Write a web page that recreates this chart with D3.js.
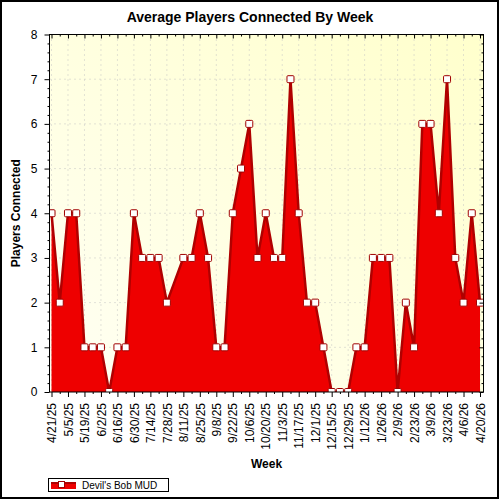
<!DOCTYPE html>
<html><head><meta charset="utf-8">
<script src="https://cdn.jsdelivr.net/npm/d3@7"></script>
<style>body{margin:0;background:#fff}svg{display:block;font-family:"Liberation Sans",Arial,sans-serif}</style>
</head><body><svg id="c" width="500" height="500"></svg>
<script>
const weeks = ["4/21/25","4/28/25","5/5/25","5/12/25","5/19/25","5/26/25","6/2/25","6/9/25","6/16/25","6/23/25","6/30/25","7/7/25","7/14/25","7/21/25","7/28/25","8/4/25","8/11/25","8/18/25","8/25/25","9/1/25","9/8/25","9/15/25","9/22/25","9/29/25","10/6/25","10/13/25","10/20/25","10/27/25","11/3/25","11/10/25","11/17/25","11/24/25","12/1/25","12/8/25","12/15/25","12/22/25","12/29/25","1/5/26","1/12/26","1/19/26","1/26/26","2/2/26","2/9/26","2/16/26","2/23/26","3/2/26","3/9/26","3/16/26","3/23/26","3/30/26","4/6/26","4/13/26","4/20/26"];
const players = [4,2,4,4,1,1,1,0,1,1,4,3,3,3,2,null,3,3,4,3,1,1,4,5,6,3,4,3,3,7,4,2,2,1,0,0,0,1,1,3,3,3,0,2,1,6,6,4,7,3,2,4,2];
const xTickLabels = weeks.filter((w,i)=>i%2===0);
const yTickValues = [0,1,2,3,4,5,6,7,8];
const chartTitle = "Average Players Connected By Week";
const xTitle = "Week";
const yTitle = "Players Connected";
const seriesName = "Devil's Bob MUD";

const svg = d3.select("#c");
const L=49.5, R=483.5, T=34.5, B=392;
const x = d3.scalePoint().domain(weeks).range([51.5,480]);
const y = d3.scaleLinear().domain([0,8]).range([B,T]);
const data = weeks.map((w,i)=>({w, v:players[i]})).filter(d=>d.v!==null);

const defs = svg.append("defs");
const g = defs.append("linearGradient").attr("id","bg").attr("x1","0").attr("y1","1").attr("x2","1").attr("y2","0");
g.append("stop").attr("offset","0").attr("stop-color","#fffff4");
g.append("stop").attr("offset","1").attr("stop-color","#ffffcc");
defs.append("clipPath").attr("id","clip").append("rect").attr("x",L).attr("y",T).attr("width",R-L).attr("height",B-T);

svg.append("rect").attr("x",1).attr("y",1).attr("width",497).attr("height",497).attr("fill","#fff").attr("stroke","#000").attr("stroke-width",2);
svg.append("rect").attr("x",L).attr("y",T).attr("width",R-L).attr("height",B-T).attr("fill","url(#bg)");

// grid
svg.append("g").selectAll("line").data(xTickLabels).join("line")
  .attr("x1",d=>x(d)).attr("x2",d=>x(d)).attr("y1",T).attr("y2",B)
  .attr("stroke","#c4c4c4").attr("stroke-dasharray","1,4");
svg.append("g").selectAll("line").data(yTickValues.slice(1,-1)).join("line")
  .attr("x1",L).attr("x2",R).attr("y1",d=>y(d)).attr("y2",d=>y(d))
  .attr("stroke","#c4c4c4").attr("stroke-dasharray","1,4");

const plot = svg.append("g").attr("clip-path","url(#clip)");
plot.append("path").datum(data).attr("fill","#ee0000")
  .attr("d", d3.area().x(d=>x(d.w)).y0(B).y1(d=>y(d.v)));
plot.append("path").datum(data).attr("fill","none").attr("stroke","#b00000").attr("stroke-width",2.5).attr("stroke-linejoin","round")
  .attr("d", d3.line().x(d=>x(d.w)).y(d=>y(d.v)));
plot.append("g").selectAll("rect").data(data).join("rect")
  .attr("x",d=>x(d.w)-3.5).attr("y",d=>y(d.v)-3.5).attr("width",7).attr("height",7).attr("rx",1)
  .attr("fill","#fff").attr("stroke","#a00000").attr("stroke-width",1);

// axes
const minorY = d3.range(0,40).map(i=>i*0.2).filter(v=>Math.abs(v-Math.round(v))>1e-6);
function styleAxis(sel){ sel.select(".domain").remove(); sel.selectAll("line").attr("stroke","#000"); }
svg.append("g").attr("transform",`translate(${L},0)`).call(d3.axisLeft(y).tickValues(minorY).tickSize(2).tickFormat("")).call(styleAxis);
const yAx = svg.append("g").attr("transform",`translate(${L},0)`).call(d3.axisLeft(y).tickValues(yTickValues).tickSize(5).tickPadding(7).tickFormat(d3.format("d"))).call(styleAxis);
yAx.selectAll("text").attr("font-size",12).attr("fill","#000").attr("font-family","Liberation Sans, Arial, sans-serif");
svg.append("g").attr("transform",`translate(${R},0)`).call(d3.axisLeft(y).tickValues(minorY).tickSize(2).tickFormat("")).call(styleAxis);
svg.append("g").attr("transform",`translate(${R},0)`).call(d3.axisLeft(y).tickValues(yTickValues).tickSize(4).tickFormat("")).call(styleAxis);

const oddWeeks = weeks.filter((w,i)=>i%2===1);
svg.append("g").attr("transform",`translate(0,${B})`).call(d3.axisBottom(x).tickValues(oddWeeks).tickSize(2).tickFormat("")).call(styleAxis);
const xAx = svg.append("g").attr("transform",`translate(0,${B})`).call(d3.axisBottom(x).tickValues(xTickLabels).tickSize(5)).call(styleAxis);
xAx.selectAll("text").attr("font-size",12).attr("fill","#000").attr("font-family","Liberation Sans, Arial, sans-serif")
  .attr("transform","rotate(-90)").attr("text-anchor","end").attr("x",-11).attr("y",0).attr("dy","0.35em");
svg.append("g").attr("transform",`translate(0,${T})`).call(d3.axisTop(x).tickValues(oddWeeks).tickSize(-2).tickFormat("")).call(styleAxis);
svg.append("g").attr("transform",`translate(0,${T})`).call(d3.axisTop(x).tickValues(xTickLabels).tickSize(-4).tickFormat("")).call(styleAxis);

svg.append("rect").attr("x",L).attr("y",T).attr("width",R-L).attr("height",B-T).attr("fill","none").attr("stroke","#000").attr("stroke-width",1);

// titles
svg.append("text").attr("x",250).attr("y",22).attr("text-anchor","middle").attr("font-size",14).attr("font-weight","bold").text(chartTitle);
svg.append("text").attr("transform",`translate(20,${(T+B)/2}) rotate(-90)`).attr("text-anchor","middle").attr("font-size",12).attr("font-weight","bold").text(yTitle);
svg.append("text").attr("x",(L+R)/2).attr("y",468).attr("text-anchor","middle").attr("font-size",12).attr("font-weight","bold").text(xTitle);

// legend
const lg = svg.append("g");
lg.append("rect").attr("x",48.5).attr("y",478.5).attr("width",120).attr("height",13).attr("fill","#fff").attr("stroke","#000");
lg.append("rect").attr("x",51).attr("y",482).attr("width",25).attr("height",7).attr("fill","#ee0000");
lg.append("line").attr("x1",51).attr("x2",76).attr("y1",483).attr("y2",483).attr("stroke","#b00000").attr("stroke-width",2);
lg.append("rect").attr("x",58.5).attr("y",481.5).attr("width",6).attr("height",6).attr("fill","#fff").attr("stroke","#a00000");
lg.append("text").attr("x",82).attr("y",488.5).attr("font-size",10).attr("fill","#000").text(seriesName);
</script></body></html>
